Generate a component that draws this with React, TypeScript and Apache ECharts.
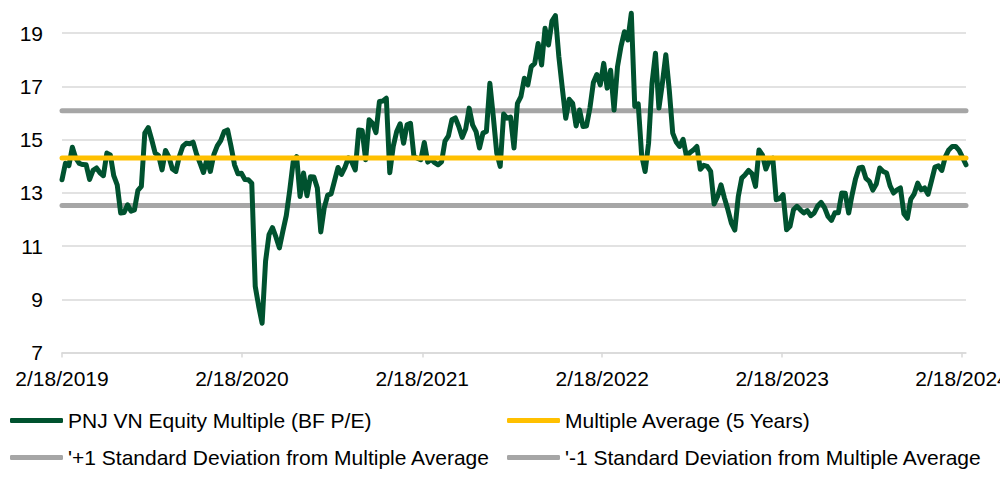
import React, { useEffect, useRef } from "react";
import * as echarts from "echarts";

// Weekly series starting 2019-02-18
const startDate = "2019-02-18";
const axisEnd = "2024-02-26";
const stepDays = 7;

const pnjValues: number[] = [
  13.49, 14.11, 14.02, 14.71, 14.30, 14.10, 14.06, 14.05, 13.50, 13.84,
  13.93, 13.75, 13.64, 14.49, 14.42, 13.64, 13.30, 12.24, 12.26, 12.55,
  12.31, 12.36, 13.09, 13.24, 15.24, 15.45, 14.99, 14.49, 14.40, 13.86,
  14.59, 14.34, 13.89, 13.80, 14.36, 14.74, 14.86, 14.84, 14.90, 14.45,
  14.11, 13.76, 14.26, 13.80, 14.43, 14.76, 14.96, 15.30, 15.36, 14.74,
  14.05, 13.71, 13.73, 13.50, 13.49, 13.36, 9.49, 8.74, 8.10, 10.43,
  11.43, 11.69, 11.34, 10.93, 11.55, 12.14, 13.09, 14.16, 14.36, 12.86,
  13.74, 12.89, 13.60, 13.59, 13.18, 11.53, 12.43, 12.91, 12.96, 13.46,
  13.95, 13.69, 13.95, 14.31, 14.15, 13.86, 15.36, 15.34, 14.24, 15.74,
  15.61, 15.26, 16.43, 16.45, 16.55, 13.75, 14.74, 15.30, 15.59, 14.86,
  15.55, 15.61, 14.36, 14.30, 14.24, 14.89, 14.15, 14.26, 14.13, 14.05,
  14.16, 14.94, 15.14, 15.74, 15.81, 15.49, 15.08, 15.40, 16.18, 15.55,
  15.30, 14.68, 15.24, 15.30, 17.11, 15.86, 14.49, 13.99, 15.96, 15.80,
  15.84, 14.68, 16.36, 16.61, 17.30, 17.05, 17.74, 17.86, 18.61, 17.80,
  19.18, 18.55, 19.45, 19.65, 18.11, 16.93, 15.80, 16.51, 16.36, 15.51,
  16.11, 15.49, 15.51, 16.18, 17.14, 17.44, 17.05, 17.86, 16.93, 17.60,
  16.11, 17.74, 18.49, 19.05, 18.74, 19.74, 16.24, 16.34, 14.40, 13.80,
  14.86, 17.11, 18.24, 16.18, 17.11, 18.18, 16.86, 15.24, 14.91, 14.74,
  15.01, 14.36, 14.51, 14.61, 14.74, 13.88, 14.03, 13.99, 13.80, 12.58,
  12.86, 13.30, 12.80, 12.36, 11.86, 11.60, 12.86, 13.55, 13.68, 13.84,
  13.71, 13.24, 14.61, 14.42, 13.89, 14.21, 14.30, 12.74, 12.78, 12.93,
  11.61, 11.74, 12.36, 12.49, 12.36, 12.24, 12.33, 12.14, 12.24, 12.50,
  12.64, 12.44, 12.11, 11.96, 12.25, 12.25, 12.99, 12.98, 12.24, 12.93,
  13.53, 13.93, 13.96, 13.54, 13.43, 13.10, 13.33, 13.93, 13.80, 13.74,
  13.26, 12.99, 13.11, 13.18, 12.21, 12.04, 12.76, 12.96, 13.36, 13.11,
  13.18, 12.94, 13.45, 13.96, 14.01, 13.84, 14.35, 14.61, 14.74, 14.74,
  14.59, 14.33, 14.05,
];

const averageValue = 14.31;
const plusOneSd = 16.08;
const minusOneSd = 12.52;

const tickDates = ["2019-02-18", "2020-02-18", "2021-02-18", "2022-02-18", "2023-02-18", "2024-02-18"];

const seriesNames = [
  "PNJ VN Equity Multiple (BF P/E)",
  "Multiple Average (5 Years)",
  "'+1 Standard Deviation from Multiple Average",
  "'-1 Standard Deviation from Multiple Average",
];

const yMin = 7;
const yMax = 20;
const yInterval = 2;

const FONT = "'Liberation Sans', Arial, sans-serif";
const DAY_MS = 86400000;

function ts(d: string): number {
  const [y, m, day] = d.split("-").map(Number);
  return Date.UTC(y, m - 1, day);
}

export default function App() {
  const ref = useRef<HTMLDivElement>(null);

  useEffect(() => {
    document.body.style.margin = "0";
    if (!ref.current) return;
    const chart = echarts.init(ref.current, undefined, { renderer: "svg" });
    const start = ts(startDate);
    const toDay = (d: string) => Math.round((ts(d) - start) / DAY_MS);
    const endDay = toDay(axisEnd);
    const pnjData = pnjValues.map((v, i) => [i * stepDays, v]);
    const flat = (v: number) => [
      [0, v],
      [endDay, v],
    ];
    const ticks = tickDates.map(toDay);
    const gridColors: string[] = [];
    for (let v = yMin; v < yMax; v += yInterval) gridColors.push("#D9D9D9");
    gridColors.push("rgba(0,0,0,0)");

    const legendBase = {
      selectedMode: false,
      padding: 0,
      icon: "roundRect",
      itemWidth: 53,
      itemHeight: 5,
      itemGap: 5,
      textStyle: { fontSize: 21, color: "#000", fontFamily: FONT },
    };

    chart.setOption({
      animation: false,
      textStyle: { fontFamily: FONT },
      grid: {
        left: 62,
        right: 34,
        top: 6.4,
        bottom: 125.5,
        containLabel: false,
        outerBoundsMode: "none",
      },
      legend: [
        { ...legendBase, data: [seriesNames[0]], left: 10, top: 410 },
        { ...legendBase, data: [seriesNames[1]], left: 507, top: 410 },
        { ...legendBase, data: [seriesNames[2]], left: 10, top: 447 },
        { ...legendBase, data: [seriesNames[3]], left: 507, top: 447 },
      ],
      xAxis: {
        type: "value",
        min: 0,
        max: endDay,
        axisLine: { show: true, lineStyle: { color: "#D9D9D9", width: 1.5 } },
        axisTick: {
          show: true,
          customValues: ticks,
          length: 5,
          lineStyle: { color: "#D9D9D9", width: 1.5 },
        },
        axisLabel: {
          customValues: ticks,
          fontSize: 21,
          color: "#000",
          fontFamily: FONT,
          margin: 15,
          hideOverlap: false,
          formatter: (val: number) => {
            const d = new Date(start + val * DAY_MS);
            return `${d.getUTCMonth() + 1}/${d.getUTCDate()}/${d.getUTCFullYear()}`;
          },
        },
        splitLine: { show: false },
      },
      yAxis: {
        type: "value",
        min: yMin,
        max: yMax,
        interval: yInterval,
        axisLine: { show: false },
        axisTick: { show: false },
        axisLabel: {
          fontSize: 21,
          color: "#000",
          fontFamily: FONT,
          margin: 19,
          showMaxLabel: false,
        },
        splitLine: { show: true, lineStyle: { color: gridColors, width: 1.5 } },
      },
      series: [
        {
          name: seriesNames[2],
          type: "line",
          data: flat(plusOneSd),
          symbol: "none",
          color: "#A6A6A6",
          lineStyle: { color: "#A6A6A6", width: 5, cap: "round" },
          z: 2,
        },
        {
          name: seriesNames[3],
          type: "line",
          data: flat(minusOneSd),
          symbol: "none",
          color: "#A6A6A6",
          lineStyle: { color: "#A6A6A6", width: 5, cap: "round" },
          z: 2,
        },
        {
          name: seriesNames[0],
          type: "line",
          data: pnjData,
          symbol: "none",
          color: "#00522F",
          lineStyle: { color: "#00522F", width: 5, join: "round", cap: "round" },
          z: 3,
        },
        {
          name: seriesNames[1],
          type: "line",
          data: flat(averageValue),
          symbol: "none",
          color: "#FFC000",
          lineStyle: { color: "#FFC000", width: 5, cap: "round" },
          z: 4,
        },
      ],
    });
    return () => chart.dispose();
  }, []);

  return <div ref={ref} style={{ width: 1000, height: 478 }} />;
}
